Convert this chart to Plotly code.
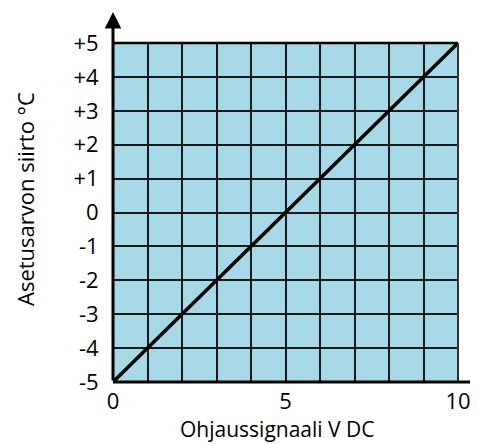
import plotly.graph_objects as go

# Data
signal_v = [0, 10]
offset_c = [-5, 5]
x_tick_vals = [0, 5, 10]
x_tick_text = ["0", "5", "10"]
y_tick_vals = [5, 4, 3, 2, 1, 0, -1, -2, -3, -4, -5]
y_tick_text = ["+5", "+4", "+3", "+2", "+1", "0", "-1", "-2", "-3", "-4", "-5"]
x_title = "Ohjaussignaali V DC"
y_title = "Asetusarvon siirto °C"

FONT = "Open Sans"
OFF = 8  # page body margin
L, R, T, B = 113 - OFF, 458 - OFF, 43 - OFF, 382 - OFF
W, H = 478 - OFF, 444 - OFF
PW, PH = R - L, B - T

fig = go.Figure()
fig.add_trace(go.Scatter(x=signal_v, y=offset_c, mode="lines",
                         line=dict(color="black", width=3.5), hoverinfo="skip"))

fig.update_layout(
    width=W, height=H,
    margin=dict(l=L, r=W - R, t=T, b=H - B, autoexpand=False),
    paper_bgcolor="white",
    plot_bgcolor="#a6d9e5",
    showlegend=False,
    font=dict(family=FONT, color="black"),
)
fig.update_xaxes(
    range=[0, 10], showgrid=True, gridcolor="#1a1a1a", gridwidth=1.5,
    tickmode="array", tickvals=x_tick_vals, ticktext=x_tick_text,
    tickfont=dict(size=22, family=FONT), ticks="outside", ticklen=0,
    tickcolor="rgba(0,0,0,0)",
    showline=False, zeroline=False, automargin=False,
    minor=dict(dtick=1, tick0=0, showgrid=True, gridcolor="#1a1a1a", gridwidth=1.5),
)
fig.update_yaxes(
    range=[-5, 5], showgrid=True, gridcolor="#1a1a1a", gridwidth=1.5,
    tickmode="array", tickvals=y_tick_vals, ticktext=y_tick_text,
    tickfont=dict(size=22, family=FONT), ticks="outside", ticklen=9,
    tickcolor="rgba(0,0,0,0)",
    showline=False, zeroline=False, automargin=False,
)

# Axis titles (positions in page pixels converted to paper coords)
fig.add_annotation(xref="paper", yref="paper", x=(277 - OFF - L) / PW, y=-(429 - OFF - B) / PH,
                   text=x_title, showarrow=False, font=dict(size=21, family=FONT),
                   xanchor="center", yanchor="middle")
fig.add_annotation(xref="paper", yref="paper", x=-(L - (25 - OFF)) / PW, y=(B - (199 - OFF)) / PH,
                   text=y_title, showarrow=False, font=dict(size=22, family=FONT),
                   textangle=-90, xanchor="center", yanchor="middle")

# Frame: top and right border
fig.add_shape(type="line", xref="paper", yref="paper", x0=0, x1=1, y0=1, y1=1,
              line=dict(color="black", width=2.5))
fig.add_shape(type="line", xref="paper", yref="paper", x0=1, x1=1, y0=0, y1=1,
              line=dict(color="#333333", width=2))
# Bottom axis extending past plot
xend = (476 - OFF - L) / PW
fig.add_shape(type="line", xref="paper", yref="paper", x0=0, x1=xend, y0=0, y1=0,
              line=dict(color="black", width=3))
fig.add_shape(type="line", xref="paper", yref="paper", x0=xend, x1=xend,
              y0=-4 / PH, y1=6 / PH, line=dict(color="black", width=1.5))
# Left axis with arrow
fig.add_annotation(xref="paper", yref="paper", x=0, y=(B - (12 - OFF)) / PH,
                   ax=0, ay=370, axref="pixel", ayref="pixel",
                   showarrow=True, arrowhead=2, arrowsize=1.1, arrowwidth=3,
                   arrowcolor="black", text="")

fig.write_html("out.html")
